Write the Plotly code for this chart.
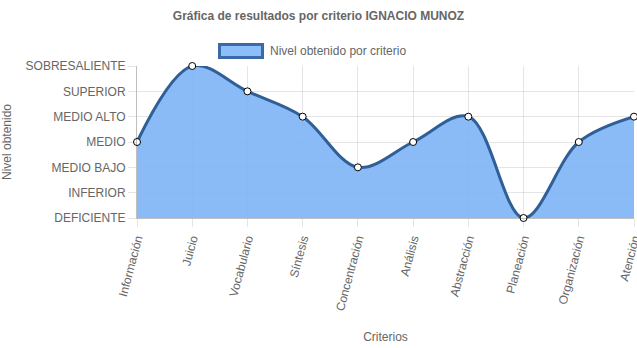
import plotly.graph_objects as go

categories = ["Información", "Juicio", "Vocabulario", "Síntesis", "Concentración",
              "Análisis", "Abstracción", "Planeación", "Organización", "Atención"]
values = [3, 6, 5, 4, 2, 3, 4, 0, 3, 4]
level_labels = ["DEFICIENTE", "INFERIOR", "MEDIO BAJO", "MEDIO", "MEDIO ALTO", "SUPERIOR", "SOBRESALIENTE"]
level_values = list(range(len(level_labels)))
series_name = "Nivel obtenido por criterio"

font_family = "Liberation Sans, Arial, sans-serif"
text_color = "#666666"
line_color = "#2f5f96"
fill_color = "rgba(125,180,245,0.9)"
legend_fill = "rgb(140,190,250)"
legend_line = "#3a6aa8"

fig = go.Figure()
fig.add_trace(go.Scatter(
    x=list(range(len(categories))), y=values,
    mode="lines+markers",
    name=series_name,
    showlegend=False,
    line=dict(color=line_color, width=3, shape="spline", smoothing=1.0),
    fill="tozeroy",
    fillcolor=fill_color,
    marker=dict(size=7, color="white", line=dict(color="black", width=1)),
    cliponaxis=False,
))

# Chart.js-style legend: box + label above plot area
fig.add_shape(type="rect", xref="paper", yref="paper",
              x0=0.166, x1=0.2525, y0=1.056, y1=1.141,
              fillcolor=legend_fill, line=dict(color=legend_line, width=3))
fig.add_annotation(text=series_name, xref="paper", yref="paper",
                   x=0.2636, y=1.0987, xanchor="left", yanchor="middle",
                   showarrow=False, font=dict(size=12, color=text_color))

fig.update_layout(
    width=637, height=348,
    margin=dict(l=137, r=3, t=66, b=130),
    paper_bgcolor="white", plot_bgcolor="white",
    font=dict(family=font_family, size=12, color=text_color),
    title=dict(text="<b>Gráfica de resultados por criterio IGNACIO MUNOZ</b>",
               x=0.5, xanchor="center", y=0.955, yanchor="middle",
               font=dict(size=12, color=text_color)),
    showlegend=False,
)

fig.update_xaxes(
    range=[0, len(categories) - 1],
    tickmode="array", tickvals=list(range(len(categories))), ticktext=categories,
    tickangle=-75, automargin=False, ticklabeloverflow="allow",
    showgrid=True, gridcolor="rgba(0,0,0,0.1)", gridwidth=1,
    ticks="outside", ticklen=8, tickcolor="rgba(0,0,0,0.1)",
    showline=True, linecolor="rgba(0,0,0,0.25)", linewidth=1,
    zeroline=False,
    tickfont=dict(size=12, color=text_color),
    title=dict(text="Criterios", font=dict(size=12, color=text_color), standoff=21),
)
fig.update_yaxes(
    range=[0, 6],
    tickmode="array", tickvals=level_values, ticktext=level_labels,
    automargin=False,
    showgrid=True, gridcolor="rgba(0,0,0,0.1)", gridwidth=1,
    ticks="outside", ticklen=8, tickcolor="rgba(0,0,0,0.1)",
    showline=True, linecolor="rgba(0,0,0,0.25)", linewidth=1,
    zeroline=False,
    tickfont=dict(size=12, color=text_color),
    title=dict(text="Nivel obtenido", font=dict(size=12, color=text_color), standoff=12),
)

fig.write_html("out.html")
